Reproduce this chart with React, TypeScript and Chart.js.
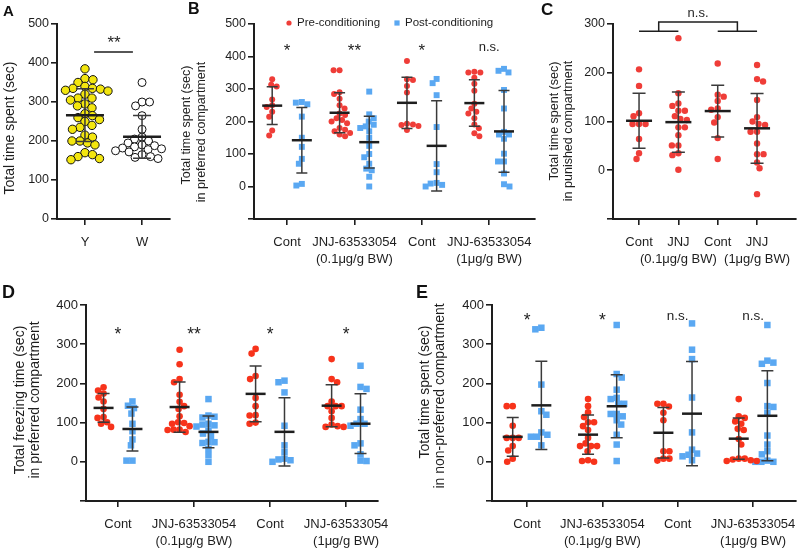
import React, { useEffect, useRef } from 'react';
import { Chart, registerables } from 'chart.js';

Chart.register(...registerables);

const FONT = '"Liberation Sans", Arial, Helvetica, sans-serif';
const INK = '#1e1e1e';
const BAR = '#3a3a3a';
const RED_TOP = '#ef3d38';
const RED_BOTTOM = '#f7331b';
const BLUE = '#5aa8f2';
const YELLOW = '#f3e60f';

// ---------- Panel A ----------
const aCategories = ['Y', 'W'];
const aYoung = [385, 360, 357, 350, 340, 335, 335, 333, 330, 328, 320, 310, 310, 305, 295, 290, 285, 270, 265, 260, 255, 250, 240, 235, 230, 215, 210, 200, 200, 195, 190, 170, 165, 160, 155, 152];
const aOld = [350, 300, 300, 290, 265, 230, 210, 205, 200, 195, 190, 188, 185, 182, 180, 178, 175, 172, 165, 160, 158, 155];
const aSig = '**';

// ---------- Panel B ----------
const bCategories = ['Cont', ['JNJ-63533054', '(0.1\u03bcg/g BW)'], 'Cont', ['JNJ-63533054', '(1\u03bcg/g BW)']];
const bPreCont01 = [330, 313, 308, 268, 250, 245, 230, 215, 172, 157];
const bPreJnj01 = [358, 358, 290, 285, 270, 250, 240, 225, 220, 210, 205, 200, 195, 180, 175, 170, 165, 160, 155];
const bPreCont1 = [386, 330, 328, 309, 289, 193, 191, 189, 186, 174];
const bPreJnj1 = [353, 351, 351, 335, 316, 295, 255, 240, 230, 225, 210, 191, 179, 164, 155];
const bPostCont01 = [260, 258, 253, 215, 150, 122, 85, 70, 8, 3];
const bPostJnj01 = [292, 222, 210, 200, 190, 185, 180, 170, 150, 125, 100, 90, 70, 50, 30, 0, 55];
const bPostCont1 = [331, 318, 281, 183, 69, 44, 11, 9, 5, 0];
const bPostJnj1 = [362, 351, 356, 297, 240, 160, 168, 160, 147, 101, 77, 77, 40, 7, 0];
const bSig = ['*', '**', '*', 'n.s.'];
const legendLabels = ['Pre-conditioning', 'Post-conditioning'];

// ---------- Panel C ----------
const cCategories = ['Cont', ['JNJ', '(0.1\u03bcg/g BW)'], 'Cont', ['JNJ', '(1\u03bcg/g BW)']];
const cCont01 = [207, 173, 117, 111, 95, 95, 95, 64, 35, 23];
const cJnj01 = [271, 158, 132, 137, 122, 122, 105, 103, 111, 88, 88, 72, 51, 51, 35, 31, 1];
const cCont1 = [219, 155, 151, 142, 127, 124, 109, 98, 66, 23];
const cJnj1 = [216, 182, 187, 144, 95, 109, 100, 93, 79, 79, 55, 33, 33, 16, 4, -49];
const cSig = 'n.s.';

// ---------- Panel D ----------
const dCategories = bCategories;
const dPreCont01 = [190, 182, 174, 164, 154, 135, 112, 114, 101, 97, 89];
const dPreJnj01 = [286, 249, 211, 203, 171, 153, 142, 135, 116, 99, 97, 101, 91, 82, 81, 82, 76];
const dPreCont1 = [288, 276, 219, 211, 163, 142, 119, 118, 100, 97];
const dPreJnj1 = [262, 211, 203, 154, 142, 142, 142, 129, 112, 95, 89, 91, 89];
const dPostCont01 = [154, 143, 137, 123, 97, 78, 57, 42, 3, 3];
const dPostJnj01 = [160, 118, 115, 113, 97, 95, 93, 90, 80, 72, 66, 51, 50, 48, 33, 17, 0];
const dPostCont1 = [203, 207, 177, 92, 42, 25, 0, 6, 8, 4];
const dPostJnj1 = [245, 191, 186, 133, 109, 97, 97, 92, 42, 47, 19, 2, 3];
const dSig = ['*', '**', '*', '*'];

// ---------- Panel E ----------
const eCategories = bCategories;
const ePreCont01 = [142, 142, 92, 61, 61, 61, 40, 29, 8, 0];
const ePreJnj01 = [160, 142, 126, 114, 101, 101, 91, 81, 61, 47, 40, 40, 40, 27, 0, 2, 4];
const ePreCont1 = [148, 148, 141, 125, 106, 27, 27, 8, 8, 3];
const ePreJnj1 = [160, 116, 112, 97, 103, 81, 84, 58, 44, 8, 8, 6, 2, 2, 4];
const ePostCont01 = [342, 338, 197, 129, 120, 69, 64, 75, 64, 42];
const ePostJnj01 = [349, 224, 215, 184, 160, 148, 148, 163, 122, 122, 116, 106, 95, 69, 44, 2];
const ePostCont1 = [353, 286, 262, 164, 75, 31, 21, 14, 18, 4];
const ePostJnj1 = [349, 250, 253, 258, 201, 140, 142, 125, 67, 44, 19, 27, 0, 0, 0, 3];
const eSig = ['*', '*', 'n.s.', 'n.s.'];

type Group = {
  values: number[];
  x: number;
  color: string;
  border: string;
  style: 'circle' | 'rect';
  radius: number;
  borderWidth: number;
  diam: number;
};

type Layout = {
  id: string;
  canvas: { left: number; top: number; width: number; height: number };
  area: { l: number; r: number; t: number; b: number };
  xMin: number;
  xMax: number;
  yMin: number;
  yMax: number;
  yStep: number;
  yTickSize: number;
  xTickSize: number;
  xTickPad: number;
  meanHalf: number;
  capHalf: number;
  titleSize: number;
  titles: { text: string; x: number; y: number }[];
};

type Extras = {
  labels: { text: string; x: number; y: number; size: number }[];
  lines: [number, number][][];
  legend?: { text: string; color: string; style: 'circle' | 'rect'; x: number; y: number }[];
};

function swarm(values: number[], diam: number, pxPerY: number): number[] {
  const placed: { px: number; py: number }[] = [];
  const out = new Array(values.length).fill(0);
  const order = values.map((_, i) => i).sort((a, b) => values[b] - values[a]);
  let flip = 1;
  for (const i of order) {
    const py = values[i] * pxPerY;
    let chosen = 0;
    let found = false;
    for (let s = 0; s < 80 && !found; s++) {
      const cands = s === 0 ? [0] : [flip * s * 0.5, -flip * s * 0.5];
      for (const c of cands) {
        if (placed.every((p) => Math.hypot(p.px - c, p.py - py) >= diam)) {
          chosen = c;
          found = true;
          break;
        }
      }
    }
    flip = -flip;
    placed.push({ px: chosen, py });
    out[i] = chosen;
  }
  return out;
}

function groupDataset(g: Group, L: Layout) {
  const pxPerX = (L.area.r - L.area.l) / (L.xMax - L.xMin);
  const pxPerY = (L.area.b - L.area.t) / (L.yMax - L.yMin);
  const offs = swarm(g.values, g.diam, pxPerY);
  return {
    type: 'scatter' as const,
    data: g.values.map((v, i) => ({ x: g.x + offs[i] / pxPerX, y: v })),
    pointStyle: g.style,
    pointRadius: g.radius,
    pointHoverRadius: g.radius,
    pointBackgroundColor: g.color,
    pointBorderColor: g.border,
    pointBorderWidth: g.borderWidth,
    showLine: false,
    clip: false as const,
    eb: { center: g.x, values: g.values },
  };
}

function glyphText(ctx: CanvasRenderingContext2D, text: string, x: number, yc: number) {
  ctx.textAlign = 'center';
  ctx.textBaseline = 'alphabetic';
  const m = ctx.measureText(text);
  const base = yc + (m.actualBoundingBoxAscent - m.actualBoundingBoxDescent) / 2;
  ctx.fillText(text, x, base);
}

function makeDecor(L: Layout, ex: Extras) {
  return {
    id: 'decor_' + L.id,
    afterDatasetsDraw(chart: any) {
      const ctx: CanvasRenderingContext2D = chart.ctx;
      const xs = chart.scales.x;
      const ys = chart.scales.y;
      ctx.save();
      ctx.lineCap = 'butt';
      for (const ds of chart.data.datasets) {
        const eb = ds.eb;
        if (!eb) continue;
        const vals: number[] = eb.values;
        const n = vals.length;
        const mean = vals.reduce((a, b) => a + b, 0) / n;
        const sd = Math.sqrt(vals.reduce((a, b) => a + (b - mean) ** 2, 0) / (n - 1));
        const cx = xs.getPixelForValue(eb.center);
        const yTop = ys.getPixelForValue(mean + sd);
        const yBot = ys.getPixelForValue(mean - sd);
        const yM = ys.getPixelForValue(mean);
        ctx.strokeStyle = BAR;
        ctx.lineWidth = 1.5;
        ctx.beginPath();
        ctx.moveTo(cx, yTop);
        ctx.lineTo(cx, yBot);
        ctx.moveTo(cx - L.capHalf, yTop);
        ctx.lineTo(cx + L.capHalf, yTop);
        ctx.moveTo(cx - L.capHalf, yBot);
        ctx.lineTo(cx + L.capHalf, yBot);
        ctx.stroke();
        ctx.strokeStyle = INK;
        ctx.lineWidth = 2.5;
        ctx.beginPath();
        ctx.moveTo(cx - L.meanHalf, yM);
        ctx.lineTo(cx + L.meanHalf, yM);
        ctx.stroke();
      }
      ctx.strokeStyle = INK;
      ctx.lineWidth = 1.5;
      for (const line of ex.lines) {
        ctx.beginPath();
        line.forEach(([vx, vy], i) => {
          const px = xs.getPixelForValue(vx);
          const py = ys.getPixelForValue(vy);
          if (i === 0) ctx.moveTo(px, py);
          else ctx.lineTo(px, py);
        });
        ctx.stroke();
      }
      ctx.fillStyle = INK;
      for (const lb of ex.labels) {
        ctx.font = `${lb.size}px ${FONT}`;
        glyphText(ctx, lb.text, xs.getPixelForValue(lb.x), ys.getPixelForValue(lb.y));
      }
      ctx.font = `${L.titleSize}px ${FONT}`;
      ctx.fillStyle = INK;
      for (const t of L.titles) {
        ctx.save();
        ctx.translate(t.x - L.canvas.left, t.y - L.canvas.top);
        ctx.rotate(-Math.PI / 2);
        ctx.textAlign = 'center';
        ctx.textBaseline = 'middle';
        ctx.fillText(t.text, 0, 0);
        ctx.restore();
      }
      if (ex.legend) {
        ctx.font = `11.5px ${FONT}`;
        for (const it of ex.legend) {
          const mx = it.x - L.canvas.left;
          const my = it.y - L.canvas.top;
          ctx.fillStyle = it.color;
          if (it.style === 'circle') {
            ctx.beginPath();
            ctx.arc(mx, my, 2.6, 0, Math.PI * 2);
            ctx.fill();
          } else {
            ctx.fillRect(mx - 2.6, my - 2.6, 5.2, 5.2);
          }
          ctx.fillStyle = INK;
          ctx.textAlign = 'left';
          ctx.textBaseline = 'middle';
          ctx.fillText(it.text, mx + 8, my);
        }
      }
      ctx.restore();
    },
  };
}

function buildConfig(L: Layout, labels: (string | string[])[], groups: Group[], ex: Extras) {
  const yTicks: number[] = [];
  for (let v = L.yMin; v <= L.yMax + 1e-6; v += L.yStep) yTicks.push(v);
  const gridCommon = {
    drawOnChartArea: false,
    drawTicks: true,
    tickLength: 6,
    tickWidth: 1.6,
    tickColor: INK,
    lineWidth: 1.6,
    color: INK,
  };
  return {
    type: 'scatter' as const,
    data: { datasets: groups.map((g) => groupDataset(g, L)) },
    options: {
      responsive: false,
      maintainAspectRatio: false,
      animation: false as const,
      events: [],
      layout: {
        padding: {
          left: 0,
          top: L.area.t - L.canvas.top,
          right: L.canvas.left + L.canvas.width - L.area.r,
          bottom: 0,
        },
      },
      plugins: { legend: { display: false }, tooltip: { enabled: false } },
      scales: {
        x: {
          type: 'linear' as const,
          min: L.xMin,
          max: L.xMax,
          afterBuildTicks: (ax: any) => {
            ax.ticks = labels.map((_, i) => ({ value: i + 1 }));
          },
          afterFit: (sc: any) => {
            sc.height = L.canvas.top + L.canvas.height - L.area.b;
          },
          ticks: {
            autoSkip: false,
            maxRotation: 0,
            minRotation: 0,
            padding: L.xTickPad,
            color: INK,
            font: { family: FONT, size: L.xTickSize, lineHeight: 1.3 },
            callback: (v: any) => labels[Math.round(Number(v)) - 1] ?? '',
          },
          grid: gridCommon,
          border: { display: true, color: INK, width: 2 },
        },
        y: {
          type: 'linear' as const,
          min: L.yMin,
          max: L.yMax,
          afterBuildTicks: (ax: any) => {
            ax.ticks = yTicks.map((v) => ({ value: v }));
          },
          afterFit: (sc: any) => {
            sc.width = L.area.l - L.canvas.left;
          },
          ticks: {
            padding: 2,
            color: INK,
            font: { family: FONT, size: L.yTickSize },
            callback: (v: any) => (Number(v) < 0 ? '' : String(v)),
          },
          title: { display: false },
          grid: gridCommon,
          border: { display: true, color: INK, width: 2 },
        },
      },
    },
    plugins: [makeDecor(L, ex)],
  };
}

function pairGroups(pre: number[][], post: number[][], off: number, red: string, rr: number, br: number, diam: number): Group[] {
  const out: Group[] = [];
  pre.forEach((vals, i) => {
    out.push({ values: vals, x: i + 1 - off, color: red, border: red, style: 'circle', radius: rr, borderWidth: 0, diam });
    out.push({ values: post[i], x: i + 1 + off, color: BLUE, border: BLUE, style: 'rect', radius: br, borderWidth: 0, diam });
  });
  return out;
}

const layoutA: Layout = {
  id: 'A',
  canvas: { left: 0, top: 0, width: 230, height: 280 },
  area: { l: 57, r: 170, t: 24, b: 219 },
  xMin: 0.51, xMax: 2.49, yMin: 0, yMax: 500, yStep: 100,
  yTickSize: 12.5, xTickSize: 13, xTickPad: 9,
  meanHalf: 19, capHalf: 9,
  titleSize: 14,
  titles: [{ text: 'Total time spent (sec)', x: 10, y: 128 }],
};
const layoutB: Layout = {
  id: 'B',
  canvas: { left: 180, top: 0, width: 400, height: 280 },
  area: { l: 254, r: 535, t: 24, b: 219 },
  xMin: 0.51, xMax: 4.68, yMin: -100, yMax: 500, yStep: 100,
  yTickSize: 12.5, xTickSize: 13, xTickPad: 9,
  meanHalf: 10, capHalf: 5.5,
  titleSize: 12.5,
  titles: [
    { text: 'Total time spent (sec)', x: 187, y: 125 },
    { text: 'in preferred compartment', x: 202, y: 132 },
  ],
};
const layoutC: Layout = {
  id: 'C',
  canvas: { left: 540, top: 0, width: 300, height: 280 },
  area: { l: 613, r: 796, t: 24, b: 219 },
  xMin: 0.338, xMax: 4.99, yMin: -100, yMax: 300, yStep: 100,
  yTickSize: 12.5, xTickSize: 13, xTickPad: 9,
  meanHalf: 13, capHalf: 6.5,
  titleSize: 12.5,
  titles: [
    { text: 'Total time spent (sec)', x: 555, y: 121 },
    { text: 'in punished compartment', x: 569, y: 131 },
  ],
};
const layoutD: Layout = {
  id: 'D',
  canvas: { left: 0, top: 280, width: 430, height: 269 },
  area: { l: 86, r: 378, t: 305, b: 501 },
  xMin: 0.579, xMax: 4.42, yMin: -100, yMax: 400, yStep: 100,
  yTickSize: 13, xTickSize: 13, xTickPad: 9,
  meanHalf: 10, capHalf: 6,
  titleSize: 14,
  titles: [
    { text: 'Total freezing time (sec)', x: 20, y: 400 },
    { text: 'in preferred compartment', x: 35, y: 400 },
  ],
};
const layoutE: Layout = {
  id: 'E',
  canvas: { left: 400, top: 280, width: 450, height: 269 },
  area: { l: 492, r: 796, t: 305, b: 501 },
  xMin: 0.535, xMax: 4.57, yMin: -100, yMax: 400, yStep: 100,
  yTickSize: 13, xTickSize: 13, xTickPad: 9,
  meanHalf: 10, capHalf: 6,
  titleSize: 14,
  titles: [
    { text: 'Total time spent (sec)', x: 425, y: 392 },
    { text: 'in non-preferred compartment', x: 440, y: 396 },
  ],
};

const panels = [
  {
    L: layoutA,
    labels: aCategories,
    groups: [
      { values: aYoung, x: 1, color: YELLOW, border: '#111', style: 'circle', radius: 4.2, borderWidth: 1, diam: 7.6 },
      { values: aOld, x: 2, color: '#ffffff', border: '#111', style: 'circle', radius: 4, borderWidth: 1, diam: 7.4 },
    ] as Group[],
    ex: {
      labels: [{ text: aSig, x: 1.51, y: 461, size: 17 }],
      lines: [[[1.16, 428], [1.84, 428]]],
    } as Extras,
  },
  {
    L: layoutB,
    labels: bCategories,
    groups: pairGroups(
      [bPreCont01, bPreJnj01, bPreCont1, bPreJnj1],
      [bPostCont01, bPostJnj01, bPostCont1, bPostJnj1],
      0.22, RED_TOP, 3, 4.2, 5.6,
    ),
    ex: {
      labels: bSig.map((t, i) => ({ text: t, x: i + 1, y: 429, size: t === 'n.s.' ? 13 : 17 })),
      lines: [],
      legend: [
        { text: legendLabels[0], color: RED_TOP, style: 'circle', x: 289, y: 23 },
        { text: legendLabels[1], color: BLUE, style: 'rect', x: 397, y: 23 },
      ],
    } as Extras,
  },
  {
    L: layoutC,
    labels: cCategories,
    groups: [cCont01, cJnj01, cCont1, cJnj1].map((vals, i) => ({
      values: vals, x: i + 1, color: RED_TOP, border: RED_TOP, style: 'circle', radius: 3.2, borderWidth: 0, diam: 6.2,
    })) as Group[],
    ex: {
      labels: [{ text: cSig, x: 2.5, y: 321, size: 13 }],
      lines: [
        [[1, 285], [2, 285]],
        [[3, 285], [4, 285]],
        [[1.5, 285], [1.5, 304], [3.5, 304], [3.5, 285]],
      ],
    } as Extras,
  },
  {
    L: layoutD,
    labels: dCategories,
    groups: pairGroups(
      [dPreCont01, dPreJnj01, dPreCont1, dPreJnj1],
      [dPostCont01, dPostJnj01, dPostCont1, dPostJnj1],
      0.19, RED_BOTTOM, 3.3, 4.6, 6,
    ),
    ex: {
      labels: dSig.map((t, i) => ({ text: t, x: i + 1, y: 336, size: t === 'n.s.' ? 13.5 : 17.5 })),
      lines: [],
    } as Extras,
  },
  {
    L: layoutE,
    labels: eCategories,
    groups: pairGroups(
      [ePreCont01, ePreJnj01, ePreCont1, ePreJnj1],
      [ePostCont01, ePostJnj01, ePostCont1, ePostJnj1],
      0.19, RED_BOTTOM, 3.3, 4.6, 6,
    ),
    ex: {
      labels: eSig.map((t, i) => ({ text: t, x: i + 1, y: 371, size: t === 'n.s.' ? 13.5 : 17.5 })),
      lines: [],
    } as Extras,
  },
];

const letters = [
  { text: 'A', left: 3, top: 3, size: 15 },
  { text: 'B', left: 188, top: 1, size: 16 },
  { text: 'C', left: 541, top: 1, size: 17 },
  { text: 'D', left: 2, top: 283, size: 18 },
  { text: 'E', left: 416, top: 283, size: 18 },
];

function Panel({ p }: { p: (typeof panels)[number] }) {
  const ref = useRef<HTMLCanvasElement>(null);
  useEffect(() => {
    const chart = new Chart(ref.current as HTMLCanvasElement, buildConfig(p.L, p.labels, p.groups, p.ex) as any);
    return () => chart.destroy();
  }, []);
  const c = p.L.canvas;
  return (
    <canvas
      ref={ref}
      width={c.width}
      height={c.height}
      style={{ position: 'absolute', left: c.left, top: c.top, width: c.width, height: c.height }}
    />
  );
}

export default function App() {
  useEffect(() => {
    document.body.style.margin = '0';
  }, []);
  return (
    <div style={{ position: 'relative', width: 798, height: 549, overflow: 'hidden', background: '#fff' }}>
      {panels.map((p) => (
        <Panel key={p.L.id} p={p} />
      ))}
      {letters.map((l) => (
        <div
          key={l.text}
          style={{
            position: 'absolute',
            left: l.left,
            top: l.top,
            fontFamily: FONT,
            fontWeight: 'bold',
            fontSize: l.size,
            lineHeight: `${l.size}px`,
            color: '#111',
          }}
        >
          {l.text}
        </div>
      ))}
    </div>
  );
}
